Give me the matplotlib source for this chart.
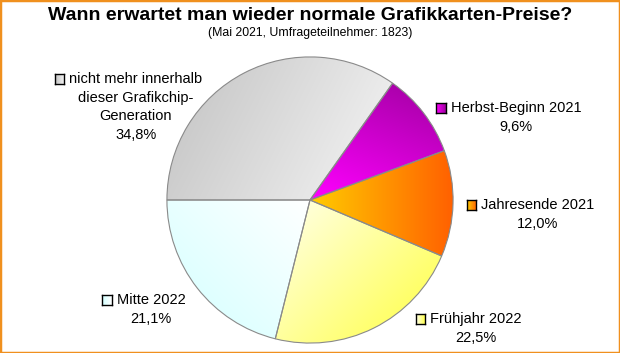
import matplotlib
matplotlib.use("Agg")
import matplotlib.pyplot as plt
import numpy as np
from matplotlib.colors import to_rgb
from matplotlib.patches import Rectangle

plt.rcParams['font.family'] = ['Liberation Sans', 'DejaVu Sans']

# Data (clockwise from 9 o'clock)
labels = ["nicht mehr innerhalb\ndieser Grafikchip-\nGeneration",
          "Herbst-Beginn 2021",
          "Jahresende 2021",
          "Frühjahr 2022",
          "Mitte 2022"]
shares = [34.8, 9.6, 12.0, 22.5, 21.1]

title = "Wann erwartet man wieder normale Grafikkarten-Preise?"
subtitle = "(Mai 2021, Umfrageteilnehmer: 1823)"

# Gradient colours per slice: (start, end, direction)
grads = [("#c2c2c2", "#f6f6f6", (1.0, -0.5)),
         ("#ff00ff", "#a000a0", (0.4, 1.0)),
         ("#ffcc00", "#ff6000", (1.0, 0.0)),
         ("#ffffec", "#ffff40", (1.0, -1.0)),
         ("#d2ffff", "#ffffff", (1.0, 1.0))]

# Label layout in pixels: text centre x, first line y
label_pos = [(136, 79), (516, 108), (538, 205), (476, 319), (151, 300)]
line_step = 18.7

W, H = 620, 353
fig = plt.figure(figsize=(W / 100, H / 100), dpi=100)


def fx(x):
    return x / W


def fy(y):
    return 1 - y / H


def gradient_image(c0, c1, direction, x0, x1, y0, y1, n=200):
    xs = np.linspace(x0, x1, n)
    ys = np.linspace(y0, y1, n)
    X, Y = np.meshgrid(xs, ys)
    d = np.array(direction, float)
    d /= np.linalg.norm(d)
    p = X * d[0] + Y * d[1]
    t = (p - p.min()) / (p.max() - p.min())
    a, b = np.array(to_rgb(c0)), np.array(to_rgb(c1))
    return a + t[..., None] * (b - a)


# Pie
cx, cy, r = 310, 200, 144.5
ax = fig.add_axes([fx(cx - r), fy(cy + r), 2 * r / W, 2 * r / H])
wedges, _ = ax.pie(shares, startangle=180, counterclock=False, radius=1,
                   wedgeprops=dict(edgecolor="#8a8a8a", linewidth=0.8))
for w, (c0, c1, d) in zip(wedges, grads):
    ext = w.get_path().get_extents()
    img = gradient_image(c0, c1, d, ext.x0, ext.x1, ext.y0, ext.y1)
    im = ax.imshow(img, extent=[ext.x0, ext.x1, ext.y0, ext.y1],
                   origin="lower", zorder=1, interpolation="bilinear")
    im.set_clip_path(w)
    w.set_facecolor("none")
    w.set_zorder(2)
ax.set_xlim(-1.01, 1.01)
ax.set_ylim(-1.01, 1.01)
ax.set_aspect("auto")
ax.axis("off")

# Titles
fig.text(0.5, fy(15), title, ha="center", va="center", fontsize=14,
         fontweight="bold")
fig.text(0.5, fy(33), subtitle, ha="center", va="center", fontsize=8.8)

# Labels with legend squares
renderer = fig.canvas.get_renderer()
for lab, val, (tx, ty), (c0, c1, d) in zip(labels, shares, label_pos, grads):
    lines = lab.split("\n") + [f"{val:.1f}%".replace(".", ",")]
    first = None
    for i, line in enumerate(lines):
        t = fig.text(fx(tx), fy(ty + i * line_step), line, ha="center",
                     va="center", fontsize=10.5)
        if i == 0:
            first = t
    bb = first.get_window_extent(renderer)
    sq = 9.5
    sx = bb.x0 - 5 - sq
    sax = fig.add_axes([sx / W, fy(ty) - sq / 2 / H, sq / W, sq / H])
    sax.imshow(gradient_image(c0, c1, (1.0, 0.0), 0, 1, 0, 1, 20),
               aspect="auto", origin="lower", extent=[0, 1, 0, 1])
    sax.set_xticks([])
    sax.set_yticks([])
    for s in sax.spines.values():
        s.set_color("black")
        s.set_linewidth(1.0)

# Orange frame
fig.patches.append(Rectangle((0, 0), 1, 1, transform=fig.transFigure,
                             fill=False, edgecolor="#f0901e", linewidth=2.5))

fig.savefig("out.png", dpi=100)
